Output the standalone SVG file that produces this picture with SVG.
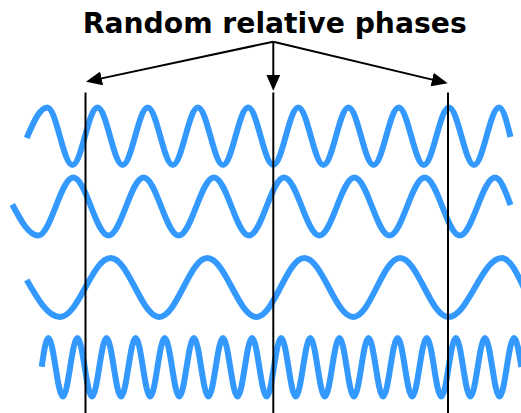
<svg xmlns="http://www.w3.org/2000/svg" width="521" height="413" viewBox="0 0 521 413">
<style>
.wave{fill:none;stroke:#3399ff;stroke-width:6;stroke-linejoin:round}
.vline{stroke:#000;stroke-width:2}
.arrow{stroke:#000;stroke-width:2;fill:none;marker-end:url(#head)}
.title{font-family:"DejaVu Sans","Verdana",sans-serif;font-weight:bold;font-size:27.5px;fill:#000}
</style>
<defs>
<marker id="head" markerUnits="userSpaceOnUse" markerWidth="16" markerHeight="14" refX="12" refY="7" orient="auto">
<path d="M0,0 L16,7 L0,14 Z" fill="#000"/>
</marker>
</defs>
<g id="title"><text class="title" x="274.7" y="33" text-anchor="middle" textLength="384" lengthAdjust="spacingAndGlyphs">Random relative phases</text></g>
<g id="waves">
<path id="wave1" class="wave" d="M26.7,138 C33.4,122.4 39.8,107.5 47.3,107.5 C56.42,107.5 63.28,165 72.4,165 S88.38,107.5 97.5,107.5 S113.48,165 122.6,165 S138.58,107.5 147.7,107.5 S163.68,165 172.8,165 S188.78,107.5 197.9,107.5 S213.88,165 223,165 S238.98,107.5 248.1,107.5 S264.08,165 273.2,165 S289.18,107.5 298.3,107.5 S314.28,165 323.4,165 S339.38,107.5 348.5,107.5 S364.48,165 373.6,165 S389.58,107.5 398.7,107.5 S414.68,165 423.8,165 S439.78,107.5 448.9,107.5 S464.88,165 474,165 S489.98,107.5 499.1,107.5 C503.2,107.5 506.8,121.9 510.5,137"/>
<path id="wave2" class="wave" d="M12.3,204.5 C20.74,220.4 28.82,235.5 38.2,235.5 C50.97,235.5 60.53,177.5 73.3,177.5 S95.73,235.5 108.5,235.5 S130.83,177.5 143.6,177.5 S165.93,235.5 178.7,235.5 S201.13,177.5 213.9,177.5 S236.23,235.5 249,235.5 S271.33,177.5 284.1,177.5 S306.53,235.5 319.3,235.5 S341.63,177.5 354.4,177.5 S376.73,235.5 389.5,235.5 S411.93,177.5 424.7,177.5 S447.03,235.5 459.8,235.5 S482.23,177.5 495,177.5 C500.6,177.5 505.45,190.9 510.5,205"/>
<path id="wave3" class="wave" d="M26.7,280 C37.56,298.9 47.95,317 60,317 C78.42,317 92.28,258 110.7,258 C128.36,258 141.64,317 159.3,317 C176.74,317 189.86,258 207.3,258 C225.18,258 238.62,317 256.5,317 C273.87,317 286.93,258 304.3,258 C322.11,258 335.49,317 353.3,317 C370.27,317 383.03,258 400,258 C417.55,258 430.75,317 448.3,317 C467.71,317 482.29,258 501.7,258 C509.7,258 516.5,272.4 523.7,287.5"/>
<path id="wave4" class="wave" d="M41.7,366.7 C43.85,352 45.91,338 48.3,338 C53.59,338 57.57,396.5 62.86,396.5 S72.12,338 77.41,338 S86.68,396.5 91.97,396.5 S101.23,338 106.52,338 S115.79,396.5 121.08,396.5 S130.34,338 135.63,338 S144.9,396.5 150.19,396.5 S159.45,338 164.74,338 S174.01,396.5 179.3,396.5 S188.56,338 193.85,338 S203.12,396.5 208.41,396.5 S217.67,338 222.96,338 S232.23,396.5 237.52,396.5 S246.78,338 252.07,338 S261.34,396.5 266.63,396.5 S275.89,338 281.18,338 S290.45,396.5 295.74,396.5 S305,338 310.29,338 S319.56,396.5 324.85,396.5 S334.11,338 339.4,338 S348.67,396.5 353.96,396.5 S363.22,338 368.51,338 S377.78,396.5 383.07,396.5 S392.33,338 397.62,338 S406.89,396.5 412.18,396.5 S421.44,338 426.73,338 S436,396.5 441.29,396.5 S450.55,338 455.84,338 S465.11,396.5 470.4,396.5 S479.66,338 484.95,338 S494.22,396.5 499.51,396.5 S508.77,338 514.06,338 C516.7,338 518.97,352.2 521.34,367"/>
</g>
<g id="lines">
<line id="line-left" class="vline" x1="85.5" y1="92.5" x2="85.5" y2="413"/>
<line id="line-mid" class="vline" x1="273.3" y1="92.5" x2="273.3" y2="413"/>
<line id="line-right" class="vline" x1="448" y1="92.5" x2="448" y2="413"/>
</g>
<g id="connectors">
<line class="arrow" x1="273.3" y1="41.7" x2="89.9" y2="80.86"/>
<line class="arrow" x1="273.3" y1="41.7" x2="273.3" y2="86.7"/>
<line class="arrow" x1="273.3" y1="41.7" x2="443.8" y2="82.37"/>
</g>
</svg>
